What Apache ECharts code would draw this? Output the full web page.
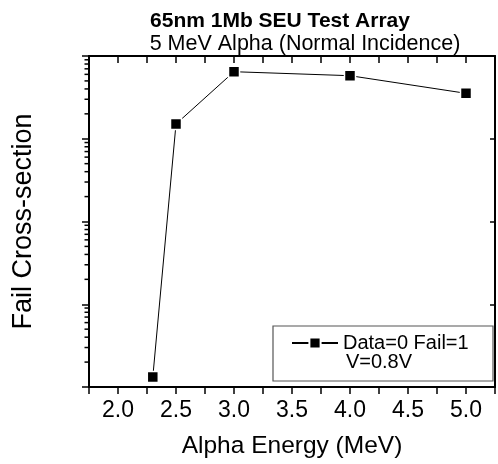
<!DOCTYPE html>
<html>
<head>
<meta charset="utf-8">
<script src="https://cdn.jsdelivr.net/npm/echarts@6/dist/echarts.min.js"></script>
<style>
html,body{margin:0;padding:0;background:#fff;}
#c{width:498px;height:464px;}
</style>
</head>
<body>
<div id="c"></div>
<script>
// Data (relative cross-section units)
const energies = [2.3, 2.5, 3.0, 4.0, 5.0];
const crossSection = [1.32, 1507, 6460, 5780, 3540];
const seriesName = 'Data=0 Fail=1';
const legendLine2 = 'V=0.8V';
const titleText = '65nm 1Mb SEU Test Array';
const subtitleText = '5 MeV Alpha (Normal Incidence)';
const xTitle = 'Alpha Energy (MeV)';
const yTitle = 'Fail Cross-section';
const xMin = 1.75, xMax = 5.25, xStep = 0.25;
const yMin = 1, yMax = 10000;
const decades = [1, 10, 100, 1000];
const minorMultipliers = [2, 3, 4, 5, 6, 7, 8, 9];

const minorTicks = [];
decades.forEach(d => minorMultipliers.forEach(m => minorTicks.push([xMin, d * m])));

const FONT = 'Liberation Sans, Arial, sans-serif';
const chart = echarts.init(document.getElementById('c'), null, {renderer: 'canvas'});

chart.setOption({
  animation: false,
  backgroundColor: '#fff',
  title: [
    {text: titleText, left: 275, top: 6, textAlign: 'center',
     textStyle: {fontFamily: FONT, fontSize: 21, fontWeight: 'bold', color: '#000'}},
    {text: subtitleText, left: 300, top: 28, textAlign: 'center',
     textStyle: {fontFamily: FONT, fontSize: 21.5, fontWeight: 'normal', color: '#000'}}
  ],
  grid: {left: 89, top: 56, width: 411, height: 332, containLabel: false},
  legend: {
    data: [seriesName],
    left: 291, top: 333,
    itemWidth: 46, itemHeight: 14, itemGap: 0,
    textStyle: {fontFamily: FONT, fontSize: 20, color: '#000', padding: [0,0,0,0]},
    padding: 0
  },
  graphic: [
    {type: 'rect', shape: {x: 273, y: 326, width: 220, height: 55},
     style: {fill: 'none', stroke: '#555', lineWidth: 1.2}, z: 10},
    {type: 'text', x: 379, y: 362, style: {text: legendLine2, font: '20px ' + FONT, fill: '#000', textAlign: 'center', textVerticalAlign: 'middle'}, z: 10}
  ],
  xAxis: [
    {type: 'value', position: 'bottom', min: xMin, max: xMax, interval: xStep,
     name: xTitle, nameLocation: 'middle', nameGap: 47,
     nameTextStyle: {fontFamily: FONT, fontSize: 24.5, color: '#000'},
     axisLine: {show: true, lineStyle: {color: '#000', width: 2}},
     axisTick: {show: true, inside: false, length: 7, lineStyle: {color: '#000', width: 1.5}},
     splitLine: {show: false},
     axisLabel: {margin: 12, fontFamily: FONT, fontSize: 23, color: '#000',
       formatter: v => {
         const r = Math.round(v * 4) / 4;
         if (Math.abs(r * 2 - Math.round(r * 2)) > 1e-6) return '';
         if (r < 2 - 1e-6 || r > 5 + 1e-6) return '';
         return r.toFixed(1);
       }}},
    {type: 'value', position: 'top', min: xMin, max: xMax, interval: xStep,
     axisLine: {show: true, lineStyle: {color: '#000', width: 2}},
     axisTick: {show: true, inside: true, length: 7, lineStyle: {color: '#000', width: 1.5}},
     axisLabel: {show: false}, splitLine: {show: false}}
  ],
  yAxis: [
    {type: 'log', logBase: 10, min: yMin, max: yMax, position: 'left',
     name: yTitle, nameLocation: 'middle', nameGap: 52,
     nameTextStyle: {fontFamily: FONT, fontSize: 27, color: '#000'},
     axisLine: {show: true, lineStyle: {color: '#000', width: 2}},
     axisTick: {show: true, inside: false, length: 7, lineStyle: {color: '#000', width: 1.5}},
     axisLabel: {show: false}, splitLine: {show: false}, minorTick: {show: false}},
    {type: 'log', logBase: 10, min: yMin, max: yMax, position: 'right',
     axisLine: {show: true, lineStyle: {color: '#000', width: 2}},
     axisTick: {show: true, inside: true, length: 5, lineStyle: {color: '#000', width: 1.5}},
     axisLabel: {show: false}, splitLine: {show: false}}
  ],
  series: [
    {name: seriesName, type: 'line', xAxisIndex: 0, yAxisIndex: 0,
     data: energies.map((e, i) => [e, crossSection[i]]),
     symbol: 'rect', symbolSize: 11,
     lineStyle: {color: '#000', width: 1},
     itemStyle: {color: '#000', borderColor: '#fff', borderWidth: 1.5},
     z: 5},
    {name: 'minor', type: 'custom', xAxisIndex: 0, yAxisIndex: 0, silent: true,
     data: minorTicks,
     renderItem: (params, api) => {
       const p = api.coord([api.value(0), api.value(1)]);
       return {type: 'line', shape: {x1: p[0] - 4.5, y1: p[1], x2: p[0], y2: p[1]},
               style: {stroke: '#000', lineWidth: 1.5}};
     }}
  ]
});
</script>
</body>
</html>
